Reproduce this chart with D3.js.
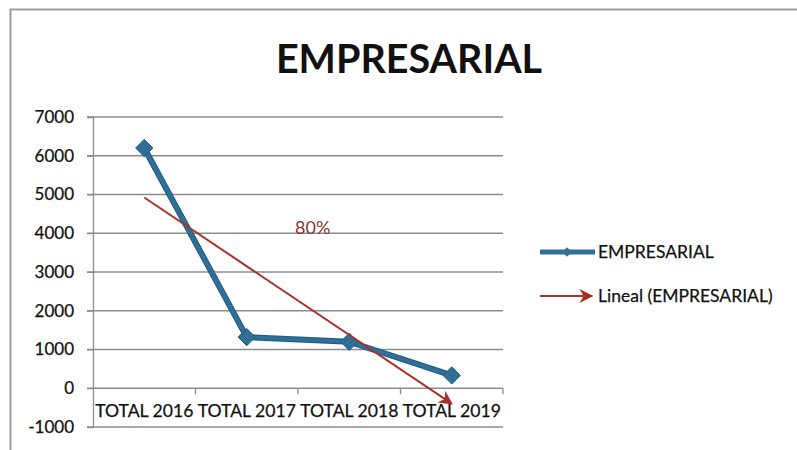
<!DOCTYPE html>
<html lang="es">
<head>
<meta charset="UTF-8">
<title>EMPRESARIAL</title>
<script src="https://cdnjs.cloudflare.com/ajax/libs/d3/7.8.5/d3.min.js"></script>
<style>
  body { margin: 0; background: #fff; }
  text { font-family: Lato, "Open Sans", sans-serif; }
</style>
</head>
<body>
<div id="container"></div>
<script>
// data
let categories = ['TOTAL 2016', 'TOTAL 2017', 'TOTAL 2018', 'TOTAL 2019'];
let values = [6200, 1320, 1200, 330];
let yTicks = [-1000, 0, 1000, 2000, 3000, 4000, 5000, 6000, 7000];
let seriesName = 'EMPRESARIAL';
let trendName = 'Lineal (EMPRESARIAL)';
let trendLabel = '80%';

let W = 797, H = 450;
let blue = '#2f6f98', red = '#a8322b';

let svg = d3.select('#container')
    .append('svg')
    .attr('width', W)
    .attr('height', H);

// frame (only top and left edges visible in the picture)
svg.append('path')
    .attr('d', 'M10.5,' + H + 'V9.5H' + W)
    .attr('fill', 'none')
    .attr('stroke', '#9a9a9a')
    .attr('stroke-width', 2);

svg.append('text')
    .attr('x', 409)
    .attr('y', 73)
    .attr('text-anchor', 'middle')
    .attr('font-size', 39.5)
    .attr('font-weight', 'bold')
    .attr('fill', '#111')
    .text('EMPRESARIAL');

let left = 93, right = 503;
let x = d3.scaleBand()
    .domain(categories)
    .range([left, right]);

let y = d3.scaleLinear()
    .domain([-1000, 7000])
    .range([427, 117]);

// gridlines
svg.append('g')
    .selectAll('line')
    .data(yTicks)
    .join('line')
    .attr('x1', left - 6)
    .attr('x2', right)
    .attr('y1', d => y(d))
    .attr('y2', d => y(d))
    .attr('stroke', '#8c8c8c')
    .attr('stroke-width', 1.3);

// y axis
let yAxis = svg.append('g')
    .attr('transform', 'translate(' + left + ',0)')
    .call(d3.axisLeft(y).tickValues(yTicks).tickSize(6).tickPadding(13).tickFormat(d => String(d)));
yAxis.select('.domain').attr('stroke', '#8c8c8c').attr('stroke-width', 1.3);
yAxis.selectAll('.tick line').attr('stroke', '#8c8c8c');
yAxis.selectAll('.tick text')
    .attr('font-size', 17)
    .attr('fill', '#111')
    .attr('stroke', '#111')
    .attr('stroke-width', 0.25)
    .style('font-family', 'Lato, sans-serif');

// x axis crossing at zero
let xAxis = svg.append('g')
    .attr('transform', 'translate(0,' + y(0) + ')')
    .call(d3.axisBottom(x).tickSize(0).tickPadding(16));
xAxis.select('.domain').remove();
xAxis.selectAll('.tick text')
    .attr('font-size', 17.6)
    .attr('fill', '#111')
    .attr('stroke', '#111')
    .attr('stroke-width', 0.25)
    .style('font-family', 'Lato, sans-serif');
svg.append('g')
    .selectAll('line')
    .data(x.domain().map(d => x(d) + x.bandwidth()))
    .join('line')
    .attr('x1', d => d).attr('x2', d => d)
    .attr('y1', y(0)).attr('y2', y(0) + 6)
    .attr('stroke', '#8c8c8c')
    .attr('stroke-width', 1.3);

let cx = d => x(d) + x.bandwidth() / 2;

// linear trend from the values
let n = values.length;
let xs = d3.range(1, n + 1);
let mx = d3.mean(xs), my = d3.mean(values);
let slope = d3.sum(xs, (xi, i) => (xi - mx) * (values[i] - my)) / d3.sum(xs, xi => (xi - mx) * (xi - mx));
let icpt = my - slope * mx;
let trend = [
    { c: categories[0], v: icpt + slope * 1 },
    { c: categories[n - 1], v: icpt + slope * n }
];

svg.append('defs').append('marker')
    .attr('id', 'arrow')
    .attr('viewBox', '0 0 10 10')
    .attr('refX', 9).attr('refY', 5)
    .attr('markerWidth', 7).attr('markerHeight', 7)
    .attr('orient', 'auto')
    .append('path')
    .attr('d', 'M0,0L10,5L0,10L3,5Z')
    .attr('fill', red);

// series line
let line = d3.line()
    .x((d, i) => cx(categories[i]))
    .y(d => y(d));

svg.append('path')
    .datum(values)
    .attr('d', line)
    .attr('fill', 'none')
    .attr('stroke', '#1f5a80')
    .attr('stroke-width', 6)
    .attr('stroke-linejoin', 'round');
svg.append('path')
    .datum(values)
    .attr('d', line)
    .attr('fill', 'none')
    .attr('stroke', blue)
    .attr('stroke-width', 4)
    .attr('stroke-linejoin', 'round');

let diamond = d3.symbol().type(d3.symbolDiamond2).size(190);
svg.append('g')
    .selectAll('path')
    .data(values)
    .join('path')
    .attr('d', diamond)
    .attr('transform', (d, i) => 'translate(' + cx(categories[i]) + ',' + y(d) + ')')
    .attr('fill', blue)
    .attr('stroke', '#1f5a80')
    .attr('stroke-width', 1);

// trend line
svg.append('line')
    .attr('x1', cx(trend[0].c)).attr('y1', y(trend[0].v))
    .attr('x2', cx(trend[1].c)).attr('y2', y(trend[1].v))
    .attr('stroke', red)
    .attr('stroke-width', 2)
    .attr('marker-end', 'url(#arrow)');

svg.append('text')
    .attr('x', 295)
    .attr('y', 234)
    .attr('font-size', 18)
    .attr('fill', '#8a3432')
    .text(trendLabel);

// legend
let lg = svg.append('g').attr('transform', 'translate(540,0)');
lg.append('line')
    .attr('x1', 0).attr('x2', 55).attr('y1', 252).attr('y2', 252)
    .attr('stroke', blue).attr('stroke-width', 5);
lg.append('path')
    .attr('d', d3.symbol().type(d3.symbolDiamond2).size(60))
    .attr('transform', 'translate(27,252)')
    .attr('fill', blue);
lg.append('text')
    .attr('x', 58).attr('y', 258)
    .attr('font-size', 17.5).attr('fill', '#111')
    .attr('stroke', '#111').attr('stroke-width', 0.25)
    .text(seriesName);
lg.append('line')
    .attr('x1', 0).attr('x2', 52).attr('y1', 296).attr('y2', 296)
    .attr('stroke', red).attr('stroke-width', 2)
    .attr('marker-end', 'url(#arrow)');
lg.append('text')
    .attr('x', 58).attr('y', 302)
    .attr('font-size', 17.5).attr('fill', '#111')
    .attr('stroke', '#111').attr('stroke-width', 0.25)
    .text(trendName);
</script>
</body>
</html>
